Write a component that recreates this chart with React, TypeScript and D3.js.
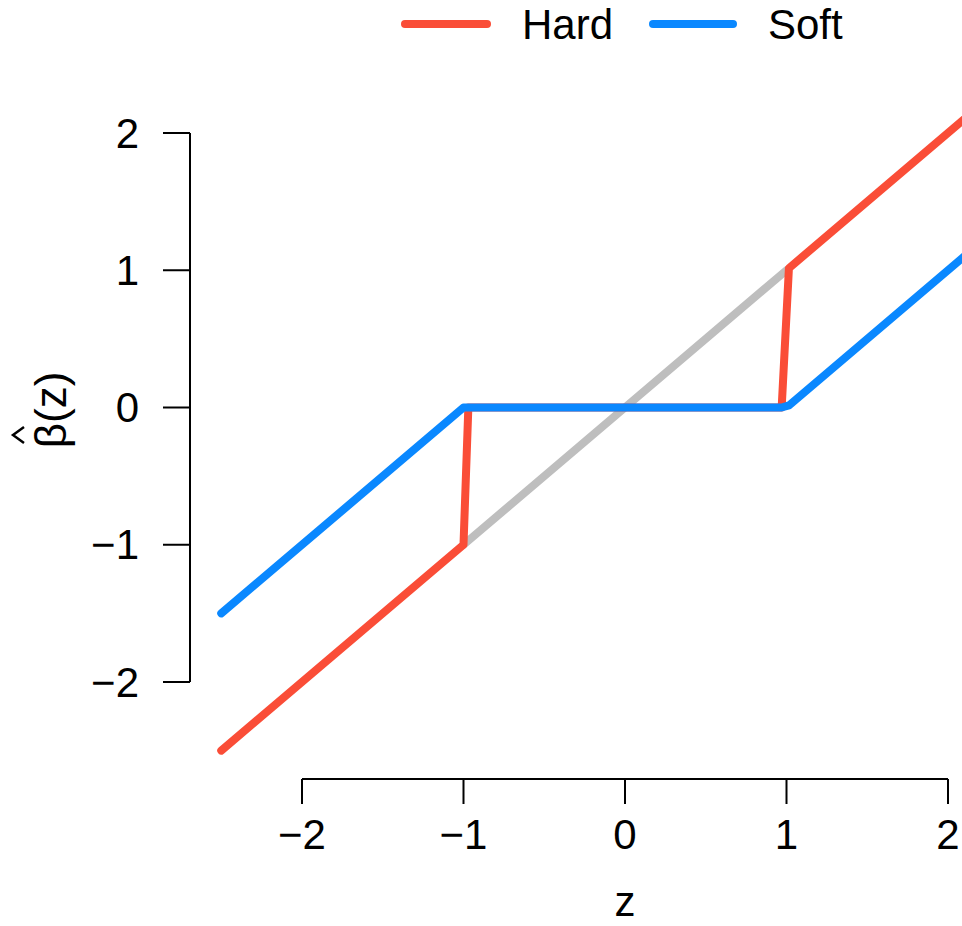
import React from "react";
import * as d3 from "d3";

const xTicks = [-2, -1, 0, 1, 2];
const yTicks = [-2, -1, 0, 1, 2];

const identityZ = [-1, 1];
const identityY = [-1, 1];

const hardZ = [-2.5, -1.0, -0.97, 0.97, 1.015, 2.5];
const hardY = [-2.5, -1.0, 0, 0, 1.015, 2.5];

const softZ = [-2.5, -1.0, -0.97, 0.97, 1.015, 2.5];
const softY = [-1.5, 0, 0, 0, 0.015, 1.5];

const legendLabels = ["Hard", "Soft"];
const RED = "#FA4D37";
const BLUE = "#0A88FF";
const GRAY = "#BEBEBE";
const FONT = "'Liberation Sans', Arial, Helvetica, sans-serif";

export default function App() {
  const W = 962;
  const H = 926;
  const x = d3.scaleLinear().domain([-2, 2]).range([302, 948]);
  const y = d3.scaleLinear().domain([-2, 2]).range([682, 133]);
  const line = d3
    .line<[number, number]>()
    .x((d) => x(d[0]))
    .y((d) => y(d[1]));
  const zip = (a: number[], b: number[]) => a.map((v, i) => [v, b[i]] as [number, number]);

  const axisY = 779;
  const axisX = 190;
  const fs = 42;

  return (
    <svg
      width={W}
      height={H}
      style={{ position: "absolute", left: 0, top: 0, background: "#fff" }}
      fontFamily={FONT}
    >
      <defs>
        <clipPath id="clip">
          <rect x={0} y={0} width={W} height={H} />
        </clipPath>
      </defs>
      <rect x={0} y={0} width={W} height={H} fill="#fff" />
      <g clipPath="url(#clip)" fill="none" strokeLinecap="round" strokeLinejoin="round" strokeWidth={8}>
        <path d={line(zip(identityZ, identityY)) || ""} stroke={GRAY} />
        <path d={line(zip(hardZ, hardY)) || ""} stroke={RED} />
        <path d={line(zip(softZ, softY)) || ""} stroke={BLUE} />
      </g>

      {/* x axis */}
      <g stroke="#000" strokeWidth={2}>
        <line x1={x(xTicks[0])} x2={x(xTicks[xTicks.length - 1])} y1={axisY} y2={axisY} />
        {xTicks.map((t) => (
          <line key={t} x1={x(t)} x2={x(t)} y1={axisY} y2={axisY + 25} />
        ))}
      </g>
      {xTicks.map((t) => (
        <text
          key={t}
          x={x(t)}
          y={834}
          fontSize={fs}
          textAnchor="middle"
          dominantBaseline="central"
          fill="#000"
        >
          {t < 0 ? "\u2212" + Math.abs(t) : String(t)}
        </text>
      ))}
      <text x={625} y={916} fontSize={fs} textAnchor="middle" fill="#000">
        z
      </text>

      {/* y axis */}
      <g stroke="#000" strokeWidth={2}>
        <line x1={axisX} x2={axisX} y1={y(yTicks[0])} y2={y(yTicks[yTicks.length - 1])} />
        {yTicks.map((t) => (
          <line key={t} x1={axisX - 27} x2={axisX} y1={y(t)} y2={y(t)} />
        ))}
      </g>
      {yTicks.map((t) => (
        <text
          key={t}
          x={139}
          y={y(t)}
          fontSize={fs}
          textAnchor="end"
          dominantBaseline="central"
          fill="#000"
        >
          {t < 0 ? "\u2212" + Math.abs(t) : String(t)}
        </text>
      ))}
      <g transform="translate(66, 410) rotate(-90)">
        <text x={0} y={0} fontSize={44} textAnchor="middle" fill="#000">
          {"\u03B2(z)"}
        </text>
        <path d="M -33 -42 L -25 -53 L -17 -42" stroke="#000" strokeWidth={2.5} fill="none" />
      </g>

      {/* legend */}
      <g strokeLinecap="round" strokeWidth={8}>
        <line x1={405} x2={487} y1={24} y2={24} stroke={RED} />
        <line x1={653} x2={733} y1={24} y2={24} stroke={BLUE} />
      </g>
      <text x={522} y={39} fontSize={fs} fill="#000">
        {legendLabels[0]}
      </text>
      <text x={768} y={39} fontSize={fs} fill="#000">
        {legendLabels[1]}
      </text>
    </svg>
  );
}
